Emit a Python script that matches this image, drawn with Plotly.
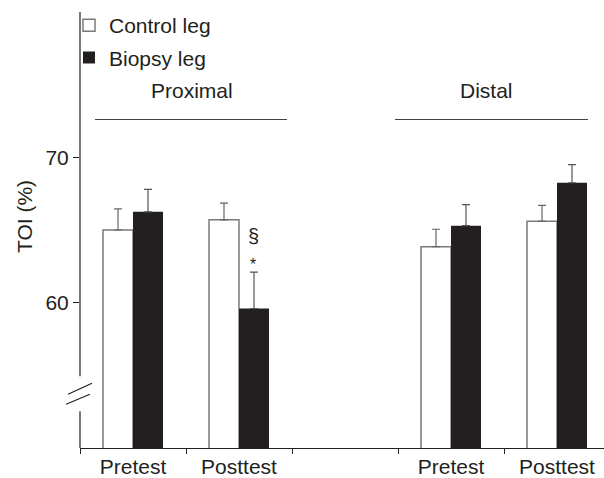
import plotly.graph_objects as go

# ---- data ----
categories = ["Proximal Pretest", "Proximal Posttest", "gap", "Distal Pretest", "Distal Posttest"]
tick_labels = ["Pretest", "Posttest", "", "Pretest", "Posttest"]
bar_categories = ["Proximal Pretest", "Proximal Posttest", "Distal Pretest", "Distal Posttest"]
control_leg = [65.0, 65.7, 63.85, 65.6]
control_err = [1.45, 1.15, 1.2, 1.1]
biopsy_leg = [66.25, 59.6, 65.3, 68.25]
biopsy_err = [1.55, 2.5, 1.45, 1.25]
y_ticks = [60, 70]

DARK = "#231f20"
GREY = "#7a7a7a"
FONT = "Liberation Sans, Arial, sans-serif"
FS = 21

# plot-area geometry (px) used for decorations
W, H = 604, 478
L, T, B = 80, 12, 28
PW, PH = W - L, H - T - B


def px_x(px):
    return (px - L) / PW


def px_y(py):
    return (H - B - py) / PH


fig = go.Figure()

# invisible trace so every slot (including the gap) is on the category axis
fig.add_trace(go.Scatter(x=categories, y=[None] * len(categories), mode="markers",
                         showlegend=False, hoverinfo="skip"))

fig.add_trace(go.Bar(
    x=bar_categories, y=control_leg, name="Control leg",
    marker=dict(color="white", line=dict(color=GREY, width=1.5)),
    error_y=dict(type="data", array=control_err, arrayminus=[0] * 4, symmetric=False,
                 color="#666666", thickness=1.2, width=4),
    legendgroup="c",
))
fig.add_trace(go.Bar(
    x=bar_categories, y=biopsy_leg, name="Biopsy leg",
    marker=dict(color=DARK, line=dict(color=DARK, width=0)),
    error_y=dict(type="data", array=biopsy_err, arrayminus=[0] * 4, symmetric=False,
                 color="#555555", thickness=1.2, width=4),
    legendgroup="b",
))

shapes = []
# broken y-axis line
shapes.append(dict(type="line", xref="paper", yref="paper", x0=0, x1=0,
                   y0=0, y1=px_y(413), line=dict(color=DARK, width=1.2)))
shapes.append(dict(type="line", xref="paper", yref="paper", x0=0, x1=0,
                   y0=px_y(378), y1=1, line=dict(color=DARK, width=1.2)))
# break slashes
shapes.append(dict(type="line", xref="paper", yref="paper", x0=px_x(68), x1=px_x(92),
                   y0=px_y(396), y1=px_y(385), line=dict(color=DARK, width=1.2)))
shapes.append(dict(type="line", xref="paper", yref="paper", x0=px_x(66), x1=px_x(90),
                   y0=px_y(406), y1=px_y(396), line=dict(color=DARK, width=1.2)))
# group lines
shapes.append(dict(type="line", xref="paper", yref="paper", x0=px_x(95), x1=px_x(287),
                   y0=px_y(120), y1=px_y(120), line=dict(color="#444444", width=1.2)))
shapes.append(dict(type="line", xref="paper", yref="paper", x0=px_x(395), x1=px_x(588),
                   y0=px_y(120), y1=px_y(120), line=dict(color="#444444", width=1.2)))

annotations = [
    dict(text="Proximal", xref="paper", yref="paper", x=px_x(192), y=px_y(91),
         xanchor="center", yanchor="middle",
         showarrow=False, font=dict(size=FS, color=DARK, family=FONT)),
    dict(text="Distal", xref="paper", yref="paper", x=px_x(486), y=px_y(91),
         xanchor="center", yanchor="middle",
         showarrow=False, font=dict(size=FS, color=DARK, family=FONT)),
    dict(text="TOI (%)", xref="paper", yref="paper", x=px_x(24), y=px_y(218),
         xanchor="center", yanchor="middle",
         textangle=-90, showarrow=False, font=dict(size=FS, color=DARK, family=FONT)),
    dict(text="§", xref="x", yref="y", x="Proximal Posttest", xshift=14, y=64.6,
         xanchor="center", yanchor="middle",
         showarrow=False, font=dict(size=20, color=DARK, family=FONT)),
    dict(text="*", xref="x", yref="y", x="Proximal Posttest", xshift=14, y=62.9, yshift=-4,
         xanchor="center", yanchor="middle",
         showarrow=False, font=dict(size=16, color=DARK, family=FONT)),
]

fig.update_layout(
    width=W, height=H,
    margin=dict(l=L, r=0, t=T, b=B, pad=0),
    paper_bgcolor="white", plot_bgcolor="white",
    font=dict(family=FONT, size=FS, color=DARK),
    barmode="group", bargap=0.434, bargroupgap=0,
    showlegend=True,
    legend=dict(x=px_x(69), y=px_y(5), xanchor="left", yanchor="top",
                bgcolor="rgba(0,0,0,0)", font=dict(size=FS, color=DARK, family=FONT),
                traceorder="grouped", tracegroupgap=2),
    xaxis=dict(type="category", categoryorder="array", categoryarray=categories,
               tickmode="array", tickvals=categories, ticktext=tick_labels,
               tickson="boundaries", ticks="outside", ticklen=5, tickcolor=DARK,
               showline=True, linecolor=DARK, linewidth=1.2, showgrid=False,
               range=[-0.5, -0.5 + PW / 106.0], fixedrange=True),
    yaxis=dict(range=[50, 80], tickmode="array", tickvals=y_ticks,
               ticks="outside", ticklen=6, tickcolor=DARK, tickwidth=1.2,
               showline=False, showgrid=False, zeroline=False, fixedrange=True),
    shapes=shapes, annotations=annotations,
)

fig.write_html("out.html")
